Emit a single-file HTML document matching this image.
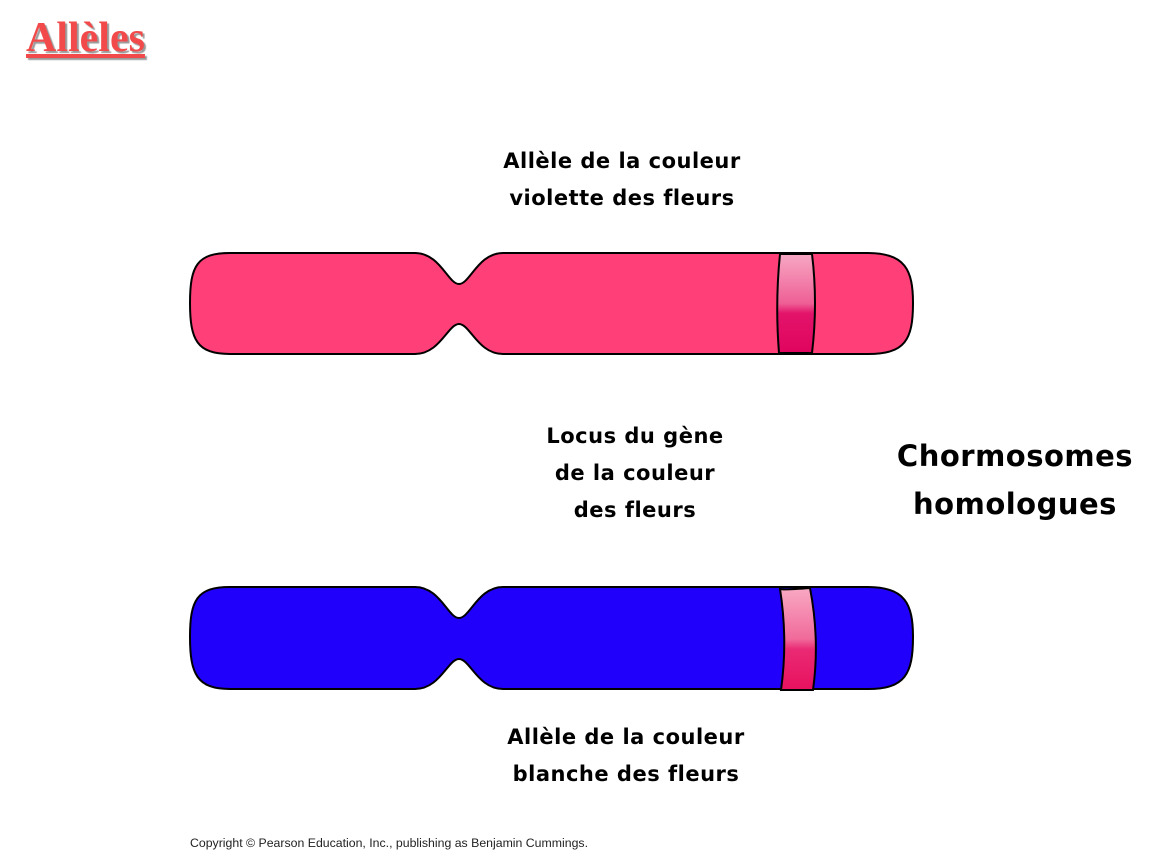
<!DOCTYPE html>
<html><head><meta charset="utf-8"><style>
html,body{margin:0;padding:0;background:#fff;}
body{width:1170px;height:860px;position:relative;overflow:hidden;}
.t{position:absolute;font-family:"DejaVu Sans",sans-serif;font-weight:bold;color:#000;text-align:center;white-space:nowrap;font-variant-ligatures:none;letter-spacing:0.5px;}
</style></head><body>
<div style="position:absolute;left:26px;top:14px;font-family:'Liberation Serif',serif;font-weight:bold;font-size:42px;color:#f24a4a;text-decoration:underline;text-shadow:2px 2px 1px #999;">Allèles</div>

<div class="t" style="left:472px;width:300px;top:143px;font-size:21px;line-height:37px;">Allèle de la couleur<br>violette des fleurs</div>
<div class="t" style="left:485px;width:300px;top:418px;font-size:21px;line-height:37px;">Locus du gène<br>de la couleur<br>des fleurs</div>
<div class="t" style="left:870px;width:290px;top:432px;font-size:29px;line-height:48px;letter-spacing:0.5px;">Chormosomes<br>homologues</div>
<div class="t" style="left:476px;width:300px;top:719px;font-size:21px;line-height:37px;">Allèle de la couleur<br>blanche des fleurs</div>
<div style="position:absolute;left:190px;top:836px;font-family:'Liberation Sans',sans-serif;font-size:12.3px;color:#222;">Copyright © Pearson Education, Inc., publishing as Benjamin Cummings.</div>

<svg width="1170" height="860" style="position:absolute;left:0;top:0;">
<defs>
<linearGradient id="b" x1="0" y1="0" x2="0" y2="1">
<stop offset="0" stop-color="#f7a8c4"/><stop offset="0.5" stop-color="#ee5f95"/><stop offset="0.6" stop-color="#e3136a"/><stop offset="1" stop-color="#e0055f"/>
</linearGradient>
<linearGradient id="b2" x1="0" y1="0" x2="0" y2="1">
<stop offset="0" stop-color="#f9a9c4"/><stop offset="0.5" stop-color="#f06a9a"/><stop offset="0.6" stop-color="#ea2a74"/><stop offset="1" stop-color="#e8115f"/>
</linearGradient>
</defs>
<path d="M230,253 L415,253 C440,253 448,284 459,284 C470,284 478,253 503,253 L868,253 C905,253 913,270 913,303 C913,340 905,354 868,354 L503,354 C478,354 470,324 459,324 C448,324 440,354 415,354 L230,354 C197,354 190,340 190,303 C190,266 197,253 230,253 Z" fill="#fe3f78" stroke="#000" stroke-width="2"/>
<path d="M780,254 Q775,303 779,353 L812,353 Q818,303 812,254 Z" fill="url(#b)" stroke="#000" stroke-width="2"/>
<path d="M230,587 L415,587 C440,587 448,618 459,618 C470,618 478,587 503,587 L868,587 C905,587 913,604 913,637 C913,674 905,689 868,689 L503,689 C478,689 470,659 459,659 C448,659 440,689 415,689 L230,689 C197,689 190,674 190,637 C190,600 197,587 230,587 Z" fill="#2000fa" stroke="#000" stroke-width="2"/>
<path d="M780,589 Q785,590 810,588 Q820,640 813,690 L781,690 Q788,640 780,589 Z" fill="url(#b2)" stroke="#000" stroke-width="2"/>
</svg>
</body></html>
